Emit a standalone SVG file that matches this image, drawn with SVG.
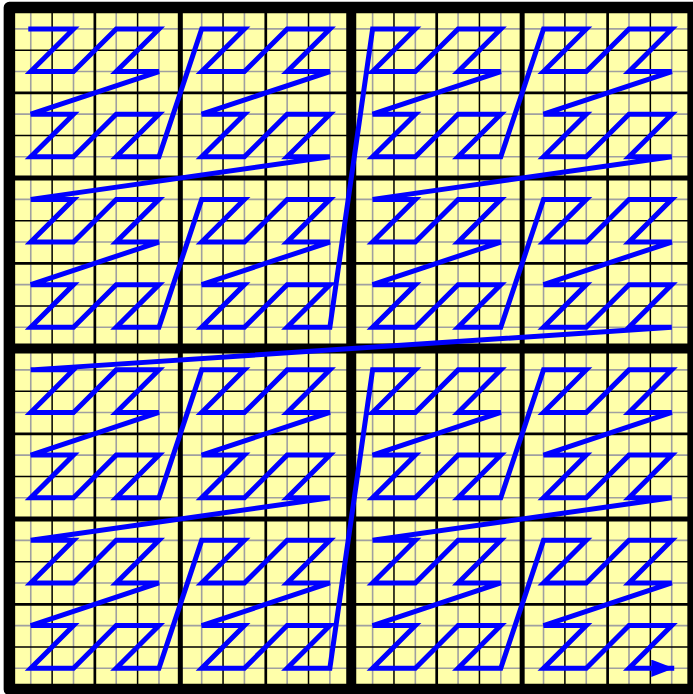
<svg xmlns="http://www.w3.org/2000/svg" width="693" height="694" viewBox="0 0 693 694">
<style>
.gray{stroke:#a0a0a0;stroke-width:1.6;fill:none}
.l1{stroke:#000;stroke-width:1.5;fill:none}
.l2{stroke:#000;stroke-width:2.7;fill:none}
.l4{stroke:#000;stroke-width:5;fill:none}
.l8{stroke:#000;stroke-width:10;fill:none}
.curve{stroke:#0000ff;stroke-width:5;fill:none;stroke-linecap:square;stroke-linejoin:miter;stroke-miterlimit:4}
</style>
<defs>
<marker id="arrow" markerUnits="userSpaceOnUse" markerWidth="23" markerHeight="17.4" viewBox="0 0 23 17.4" refX="20.5" refY="8.7" orient="auto">
<path d="M0,0L23,8.7L0,17.4z" fill="#0000ff"/>
</marker>
</defs>
<rect x="9.4" y="7.6" width="683.7" height="681.9" fill="#ffffaa"/>
<g id="grid">
<path class="gray" d="M30.77,7.6V689.5M73.5,7.6V689.5M116.23,7.6V689.5M158.96,7.6V689.5M201.69,7.6V689.5M244.42,7.6V689.5M287.15,7.6V689.5M329.88,7.6V689.5M372.61,7.6V689.5M415.34,7.6V689.5M458.07,7.6V689.5M500.8,7.6V689.5M543.53,7.6V689.5M586.26,7.6V689.5M628.99,7.6V689.5M671.72,7.6V689.5M9.4,28.91H693.1M9.4,71.53H693.1M9.4,114.15H693.1M9.4,156.77H693.1M9.4,199.39H693.1M9.4,242.01H693.1M9.4,284.63H693.1M9.4,327.25H693.1M9.4,369.87H693.1M9.4,412.49H693.1M9.4,455.11H693.1M9.4,497.73H693.1M9.4,540.35H693.1M9.4,582.97H693.1M9.4,625.59H693.1M9.4,668.21H693.1"/>
<path class="l1" d="M52.13,7.6V689.5M137.59,7.6V689.5M223.05,7.6V689.5M308.51,7.6V689.5M393.97,7.6V689.5M479.43,7.6V689.5M564.89,7.6V689.5M650.35,7.6V689.5M9.4,50.22H693.1M9.4,135.46H693.1M9.4,220.7H693.1M9.4,305.94H693.1M9.4,391.18H693.1M9.4,476.42H693.1M9.4,561.66H693.1M9.4,646.9H693.1"/>
<path class="l2" d="M94.86,7.6V689.5M265.78,7.6V689.5M436.7,7.6V689.5M607.62,7.6V689.5M9.4,92.84H693.1M9.4,263.32H693.1M9.4,433.8H693.1M9.4,604.28H693.1"/>
<path class="l4" d="M180.32,7.6V689.5M522.16,7.6V689.5M9.4,178.08H693.1M9.4,519.04H693.1"/>
<path class="l8" d="M351.24,7.6V689.5M9.4,348.56H693.1"/>
</g>
<g id="curve">
<path class="curve" marker-end="url(#arrow)" d="M30.77,28.91
h42.73l-42.73,42.62h42.73l42.73,-42.62h42.73l-42.73,42.62h42.73l-128.19,42.62h42.73l-42.73,42.62h42.73l42.73,-42.62h42.73l-42.73,42.62h42.73
l42.73,-127.86
h42.73l-42.73,42.62h42.73l42.73,-42.62h42.73l-42.73,42.62h42.73l-128.19,42.62h42.73l-42.73,42.62h42.73l42.73,-42.62h42.73l-42.73,42.62h42.73
l-299.11,42.62
h42.73l-42.73,42.62h42.73l42.73,-42.62h42.73l-42.73,42.62h42.73l-128.19,42.62h42.73l-42.73,42.62h42.73l42.73,-42.62h42.73l-42.73,42.62h42.73
l42.73,-127.86
h42.73l-42.73,42.62h42.73l42.73,-42.62h42.73l-42.73,42.62h42.73l-128.19,42.62h42.73l-42.73,42.62h42.73l42.73,-42.62h42.73l-42.73,42.62h42.73
l42.73,-298.34
h42.73l-42.73,42.62h42.73l42.73,-42.62h42.73l-42.73,42.62h42.73l-128.19,42.62h42.73l-42.73,42.62h42.73l42.73,-42.62h42.73l-42.73,42.62h42.73
l42.73,-127.86
h42.73l-42.73,42.62h42.73l42.73,-42.62h42.73l-42.73,42.62h42.73l-128.19,42.62h42.73l-42.73,42.62h42.73l42.73,-42.62h42.73l-42.73,42.62h42.73
l-299.11,42.62
h42.73l-42.73,42.62h42.73l42.73,-42.62h42.73l-42.73,42.62h42.73l-128.19,42.62h42.73l-42.73,42.62h42.73l42.73,-42.62h42.73l-42.73,42.62h42.73
l42.73,-127.86
h42.73l-42.73,42.62h42.73l42.73,-42.62h42.73l-42.73,42.62h42.73l-128.19,42.62h42.73l-42.73,42.62h42.73l42.73,-42.62h42.73l-42.73,42.62h42.73
l-640.95,42.62
h42.73l-42.73,42.62h42.73l42.73,-42.62h42.73l-42.73,42.62h42.73l-128.19,42.62h42.73l-42.73,42.62h42.73l42.73,-42.62h42.73l-42.73,42.62h42.73
l42.73,-127.86
h42.73l-42.73,42.62h42.73l42.73,-42.62h42.73l-42.73,42.62h42.73l-128.19,42.62h42.73l-42.73,42.62h42.73l42.73,-42.62h42.73l-42.73,42.62h42.73
l-299.11,42.62
h42.73l-42.73,42.62h42.73l42.73,-42.62h42.73l-42.73,42.62h42.73l-128.19,42.62h42.73l-42.73,42.62h42.73l42.73,-42.62h42.73l-42.73,42.62h42.73
l42.73,-127.86
h42.73l-42.73,42.62h42.73l42.73,-42.62h42.73l-42.73,42.62h42.73l-128.19,42.62h42.73l-42.73,42.62h42.73l42.73,-42.62h42.73l-42.73,42.62h42.73
l42.73,-298.34
h42.73l-42.73,42.62h42.73l42.73,-42.62h42.73l-42.73,42.62h42.73l-128.19,42.62h42.73l-42.73,42.62h42.73l42.73,-42.62h42.73l-42.73,42.62h42.73
l42.73,-127.86
h42.73l-42.73,42.62h42.73l42.73,-42.62h42.73l-42.73,42.62h42.73l-128.19,42.62h42.73l-42.73,42.62h42.73l42.73,-42.62h42.73l-42.73,42.62h42.73
l-299.11,42.62
h42.73l-42.73,42.62h42.73l42.73,-42.62h42.73l-42.73,42.62h42.73l-128.19,42.62h42.73l-42.73,42.62h42.73l42.73,-42.62h42.73l-42.73,42.62h42.73
l42.73,-127.86
h42.73l-42.73,42.62h42.73l42.73,-42.62h42.73l-42.73,42.62h42.73l-128.19,42.62h42.73l-42.73,42.62h42.73l42.73,-42.62h42.73l-42.73,42.62h42.73"/>
</g>
<rect id="border" x="9.4" y="7.6" width="683.7" height="681.9" fill="none" stroke="#000" stroke-width="11.5" stroke-linejoin="round"/>
</svg>
